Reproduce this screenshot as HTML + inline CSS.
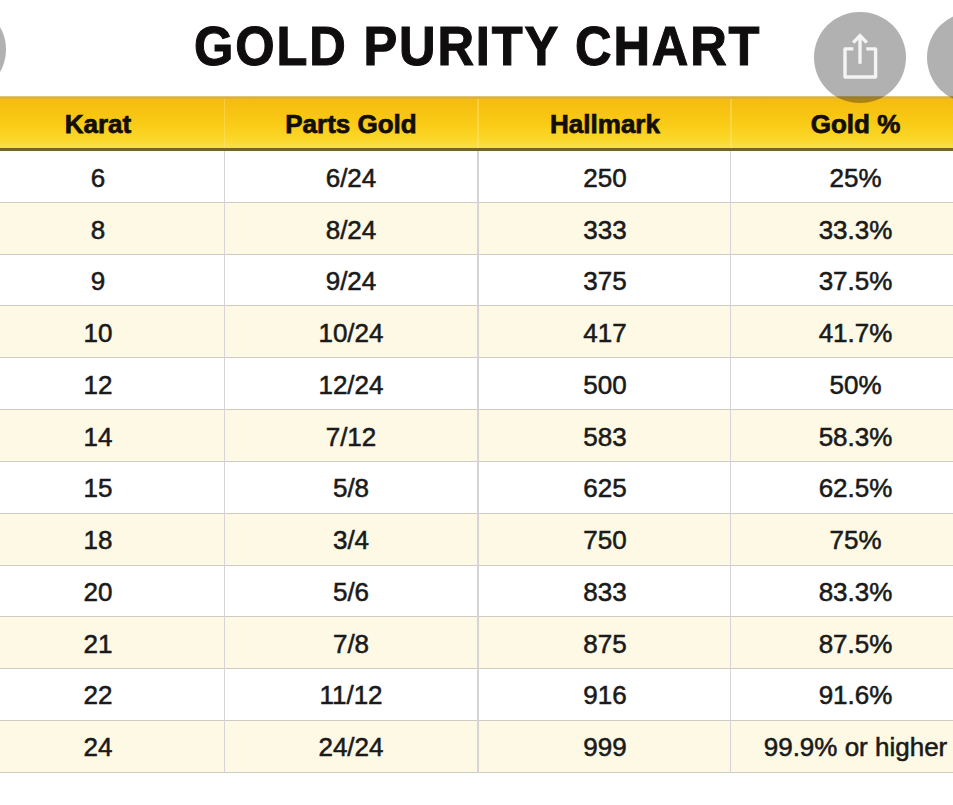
<!DOCTYPE html>
<html><head><meta charset="utf-8">
<style>
html,body{margin:0;padding:0;}
body{width:953px;height:805px;overflow:hidden;position:relative;background:#fff;font-family:"Liberation Sans",sans-serif;}
.title{position:absolute;left:194.0px;top:14px;height:64px;line-height:64px;font-weight:bold;font-size:55.0px;color:#0f0d0e;white-space:nowrap;-webkit-text-stroke:1.1px #0f0d0e;transform-origin:0 0;transform:scaleX(0.92);letter-spacing:2.0px;}
.hdr{position:absolute;left:0;top:96px;width:953px;height:54.5px;background:linear-gradient(#f5ba12 0%,#f7c010 20%,#f9cb16 50%,#fbd82a 80%,#f9de4a 92%,#f4dc56 95%);}
.hdr .bt{position:absolute;left:0;right:0;bottom:0;height:2.4px;background:#75652b;}
.hdr .tp{position:absolute;left:0;right:0;top:0;height:3px;background:linear-gradient(#e8cf88,#d8b043 45%,#e2b832);}
.hx{position:absolute;top:2px;width:300px;height:53px;line-height:53px;text-align:center;font-weight:bold;font-size:26px;color:#130f08;-webkit-text-stroke:0.75px #130f08;}
.r{position:absolute;left:0;width:953px;height:51.83px;}
.w{background:#fff;}
.c{background:#fdf9e5;}
.ln{position:absolute;left:0;width:953px;height:1px;background:#d0cbc1;}
.vl{position:absolute;top:150.5px;width:1.3px;height:622px;background:#d6d4d7;}
.tx{position:absolute;width:300px;height:52px;line-height:52px;text-align:center;font-size:26px;color:#1a1a1a;white-space:nowrap;-webkit-text-stroke:0.55px #1a1a1a;}
.hv{position:absolute;top:99px;width:1.5px;height:49px;background:rgba(255,236,150,0.35);}
.circ{position:absolute;border-radius:50%;background:rgba(12,12,14,0.32);}
</style></head><body>
<div class="title" id="ttl">GOLD PURITY CHART</div>
<div class="r w" style="top:150.00px"></div>
<div class="r c" style="top:201.83px"></div>
<div class="r w" style="top:253.67px"></div>
<div class="r c" style="top:305.50px"></div>
<div class="r w" style="top:357.33px"></div>
<div class="r c" style="top:409.17px"></div>
<div class="r w" style="top:461.00px"></div>
<div class="r c" style="top:512.83px"></div>
<div class="r w" style="top:564.67px"></div>
<div class="r c" style="top:616.50px"></div>
<div class="r w" style="top:668.33px"></div>
<div class="r c" style="top:720.17px"></div>
<div class="ln" style="top:201.73px"></div>
<div class="ln" style="top:253.57px"></div>
<div class="ln" style="top:305.40px"></div>
<div class="ln" style="top:357.23px"></div>
<div class="ln" style="top:409.07px"></div>
<div class="ln" style="top:460.90px"></div>
<div class="ln" style="top:512.73px"></div>
<div class="ln" style="top:564.57px"></div>
<div class="ln" style="top:616.40px"></div>
<div class="ln" style="top:668.23px"></div>
<div class="ln" style="top:720.07px"></div>
<div class="ln" style="top:771.90px"></div>
<div class="tx" style="top:152.00px;left:-52.0px">6</div>
<div class="tx" style="top:152.00px;left:201.0px">6/24</div>
<div class="tx" style="top:152.00px;left:455.0px">250</div>
<div class="tx" style="top:152.00px;left:705.5px">25%</div>
<div class="tx" style="top:203.74px;left:-52.0px">8</div>
<div class="tx" style="top:203.74px;left:201.0px">8/24</div>
<div class="tx" style="top:203.74px;left:455.0px">333</div>
<div class="tx" style="top:203.74px;left:705.5px">33.3%</div>
<div class="tx" style="top:255.49px;left:-52.0px">9</div>
<div class="tx" style="top:255.49px;left:201.0px">9/24</div>
<div class="tx" style="top:255.49px;left:455.0px">375</div>
<div class="tx" style="top:255.49px;left:705.5px">37.5%</div>
<div class="tx" style="top:307.23px;left:-52.0px">10</div>
<div class="tx" style="top:307.23px;left:201.0px">10/24</div>
<div class="tx" style="top:307.23px;left:455.0px">417</div>
<div class="tx" style="top:307.23px;left:705.5px">41.7%</div>
<div class="tx" style="top:358.97px;left:-52.0px">12</div>
<div class="tx" style="top:358.97px;left:201.0px">12/24</div>
<div class="tx" style="top:358.97px;left:455.0px">500</div>
<div class="tx" style="top:358.97px;left:705.5px">50%</div>
<div class="tx" style="top:410.72px;left:-52.0px">14</div>
<div class="tx" style="top:410.72px;left:201.0px">7/12</div>
<div class="tx" style="top:410.72px;left:455.0px">583</div>
<div class="tx" style="top:410.72px;left:705.5px">58.3%</div>
<div class="tx" style="top:462.46px;left:-52.0px">15</div>
<div class="tx" style="top:462.46px;left:201.0px">5/8</div>
<div class="tx" style="top:462.46px;left:455.0px">625</div>
<div class="tx" style="top:462.46px;left:705.5px">62.5%</div>
<div class="tx" style="top:514.20px;left:-52.0px">18</div>
<div class="tx" style="top:514.20px;left:201.0px">3/4</div>
<div class="tx" style="top:514.20px;left:455.0px">750</div>
<div class="tx" style="top:514.20px;left:705.5px">75%</div>
<div class="tx" style="top:565.95px;left:-52.0px">20</div>
<div class="tx" style="top:565.95px;left:201.0px">5/6</div>
<div class="tx" style="top:565.95px;left:455.0px">833</div>
<div class="tx" style="top:565.95px;left:705.5px">83.3%</div>
<div class="tx" style="top:617.69px;left:-52.0px">21</div>
<div class="tx" style="top:617.69px;left:201.0px">7/8</div>
<div class="tx" style="top:617.69px;left:455.0px">875</div>
<div class="tx" style="top:617.69px;left:705.5px">87.5%</div>
<div class="tx" style="top:669.43px;left:-52.0px">22</div>
<div class="tx" style="top:669.43px;left:201.0px">11/12</div>
<div class="tx" style="top:669.43px;left:455.0px">916</div>
<div class="tx" style="top:669.43px;left:705.5px">91.6%</div>
<div class="tx" style="top:721.18px;left:-52.0px">24</div>
<div class="tx" style="top:721.18px;left:201.0px">24/24</div>
<div class="tx" style="top:721.18px;left:455.0px">999</div>
<div class="tx" style="top:721.18px;left:705.5px">99.9% or higher</div>
<div class="hdr"><div class="tp"></div><div class="bt"></div>
<div class="hx" style="left:-52.0px">Karat</div>
<div class="hx" style="left:201.0px">Parts Gold</div>
<div class="hx" style="left:455.0px">Hallmark</div>
<div class="hx" style="left:705.5px">Gold %</div>
</div>
<div class="vl" style="left:223.8px"></div><div class="hv" style="left:223.8px"></div>
<div class="vl" style="left:477.3px"></div><div class="hv" style="left:477.3px"></div>
<div class="vl" style="left:730px"></div><div class="hv" style="left:730px"></div>
<div class="circ" style="left:814.2px;top:11.8px;width:91.6px;height:91.6px"></div>
<div class="circ" style="left:926.6px;top:11.7px;width:91.6px;height:91.6px"></div>
<div class="circ" style="left:-85.6px;top:3.7px;width:91.6px;height:91.6px"></div>
<svg style="position:absolute;left:830px;top:25px" width="60" height="65" viewBox="830 25 60 65">
<g fill="none" stroke="#f4f4f4" stroke-width="3.4" stroke-linejoin="round">
<path d="M853.4 48.9 H845 V77 H875.6 V48.9 H866.3"/>
<path d="M860 36 V63.8"/>
<path d="M853.2 42.6 L860 35.6 L866.8 42.6" stroke-linecap="butt" stroke-linejoin="miter"/>
</g></svg>
</body></html>
